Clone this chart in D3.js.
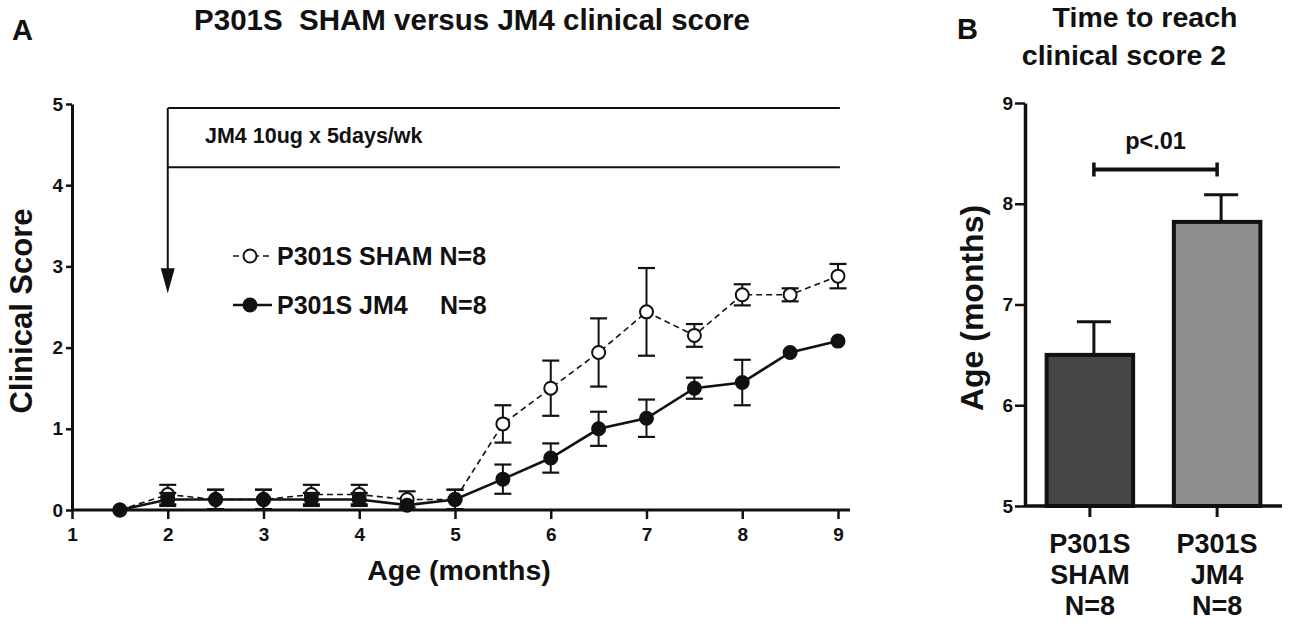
<!DOCTYPE html>
<html>
<head>
<meta charset="utf-8">
<script src="https://cdn.jsdelivr.net/npm/d3@7"></script>
<style>
  body { margin: 0; background: #fff; }
  svg text { font-family: "Liberation Sans", Arial, sans-serif; font-weight: bold; fill: #111; }
</style>
</head>
<body>
<div id="chart-container" style="width:1300px;height:628px;"></div>
<script>
// --- Data: panel A (clinical score by age) ---
const months = [1.5, 2, 2.5, 3, 3.5, 4, 4.5, 5, 5.5, 6, 6.5, 7, 7.5, 8, 8.5, 9];
const shamMean = [0, 0.19, 0.13, 0.13, 0.19, 0.19, 0.13, 0.13, 1.06, 1.5, 1.94, 2.44, 2.15, 2.65, 2.65, 2.88];
const shamSem  = [0, 0.12, 0.12, 0.12, 0.12, 0.12, 0.10, 0.12, 0.23, 0.34, 0.42, 0.54, 0.14, 0.13, 0.08, 0.15];
const jm4Mean  = [0, 0.13, 0.13, 0.13, 0.13, 0.13, 0.06, 0.13, 0.38, 0.64, 1.0, 1.13, 1.5, 1.57, 1.94, 2.08];
const jm4Sem   = [0, 0.08, 0.12, 0.12, 0.08, 0.08, 0, 0.12, 0.18, 0.18, 0.21, 0.23, 0.13, 0.28, 0, 0];
const xTicksA = [1, 2, 3, 4, 5, 6, 7, 8, 9];
const yTicksA = [0, 1, 2, 3, 4, 5];

// --- Data: panel B (time to reach score 2) ---
const groups = ["SHAM", "JM4"];
const groupLabels = [["P301S", "SHAM", "N=8"], ["P301S", "JM4", "N=8"]];
const ageMean = [6.5, 7.82];
const ageSem = [0.33, 0.27];
const yTicksB = [5, 6, 7, 8, 9];

const svg = d3.select("#chart-container")
    .append("svg")
    .attr("width", 1300)
    .attr("height", 628);

const intFmt = d3.format("d");

// ================= Panel A =================
const x = d3.scaleLinear().domain([1, 9]).range([72, 838]);
const y = d3.scaleLinear().domain([0, 5]).range([510, 104]);

svg.append("text").attr("x", 12).attr("y", 40).attr("font-size", "29px").text("A");
svg.append("text")
    .attr("x", 472).attr("y", 30)
    .attr("text-anchor", "middle")
    .attr("font-size", "29.5px")
    .attr("xml:space", "preserve")
    .text("P301S  SHAM versus JM4 clinical score");

// axes
const xAxis = svg.append("g")
    .attr("transform", `translate(0, ${y(0)})`)
    .call(d3.axisBottom(x).tickValues(xTicksA).tickFormat(intFmt).tickSize(9).tickSizeOuter(0).tickPadding(9));
xAxis.select(".domain").remove();
xAxis.selectAll(".tick line").attr("stroke", "#111").attr("stroke-width", 2.5);
xAxis.selectAll("text").style("font-size", "19px").attr("fill", "#111");
svg.append("line")
    .attr("x1", x(1)).attr("x2", x(9) + 12)
    .attr("y1", y(0)).attr("y2", y(0))
    .attr("stroke", "#111").attr("stroke-width", 3);

const yAxis = svg.append("g")
    .attr("transform", `translate(${x(1)}, 0)`)
    .call(d3.axisLeft(y).tickValues(yTicksA).tickFormat(intFmt).tickSize(6).tickSizeOuter(0).tickPadding(3));
yAxis.select(".domain").attr("stroke", "#111").attr("stroke-width", 3);
yAxis.selectAll(".tick line").attr("stroke", "#111").attr("stroke-width", 2.5);
yAxis.selectAll("text").style("font-size", "19px").attr("fill", "#111");

svg.append("text")
    .attr("transform", `translate(32, 311) rotate(-90)`)
    .attr("text-anchor", "middle")
    .attr("font-size", "31px")
    .text("Clinical Score");
svg.append("text")
    .attr("x", 459).attr("y", 580)
    .attr("text-anchor", "middle")
    .attr("font-size", "28.5px")
    .text("Age (months)");

// treatment box + arrow
const boxTop = y(4.95), boxBot = y(4.22), boxL = x(2), boxR = x(9.02);
[boxTop, boxBot].forEach(v => {
    svg.append("line")
        .attr("x1", boxL).attr("x2", boxR).attr("y1", v).attr("y2", v)
        .attr("stroke", "#111").attr("stroke-width", 2);
});
const tipY = y(2.67);
svg.append("line")
    .attr("x1", boxL).attr("x2", boxL).attr("y1", boxTop).attr("y2", tipY - 20)
    .attr("stroke", "#111").attr("stroke-width", 2);
svg.append("path")
    .attr("d", `M${boxL - 7},${tipY - 25} L${boxL + 7},${tipY - 25} L${boxL},${tipY} Z`)
    .attr("fill", "#111");
svg.append("text")
    .attr("x", 205).attr("y", 143)
    .attr("font-size", "21.5px")
    .text("JM4 10ug x 5days/wk");

// series
const seriesA = [
    { name: "sham", mean: shamMean, sem: shamSem, dash: "6,4", width: 1.6, fill: "#fff" },
    { name: "jm4", mean: jm4Mean, sem: jm4Sem, dash: null, width: 2.6, fill: "#111" }
];
const line = d3.line().x(d => x(d.m)).y(d => y(d.v));

seriesA.forEach(s => {
    const pts = months.map((m, i) => ({ m, v: s.mean[i], e: s.sem[i] }));
    const g = svg.append("g");

    // error bars
    pts.filter(d => d.e > 0).forEach(d => {
        g.append("line")
            .attr("x1", x(d.m)).attr("x2", x(d.m))
            .attr("y1", y(d.v + d.e)).attr("y2", y(Math.max(0, d.v - d.e)))
            .attr("stroke", "#111").attr("stroke-width", 2);
        [d.v + d.e, Math.max(0, d.v - d.e)].forEach(v => {
            g.append("line")
                .attr("x1", x(d.m) - 8.5).attr("x2", x(d.m) + 8.5)
                .attr("y1", y(v)).attr("y2", y(v))
                .attr("stroke", "#111").attr("stroke-width", 2.2);
        });
    });

    g.append("path")
        .datum(pts)
        .attr("d", line)
        .attr("fill", "none")
        .attr("stroke", "#111")
        .attr("stroke-width", s.width)
        .attr("stroke-dasharray", s.dash);

    g.selectAll("circle")
        .data(pts)
        .enter()
        .append("circle")
        .attr("cx", d => x(d.m))
        .attr("cy", d => y(d.v))
        .attr("r", 6.5)
        .attr("fill", s.fill)
        .attr("stroke", "#111")
        .attr("stroke-width", 2);
});

// legend
const legend = [
    { s: seriesA[0], label: "P301S SHAM N=8", extra: null, cy: 256 },
    { s: seriesA[1], label: "P301S JM4", extra: "N=8", cy: 305 }
];
legend.forEach(l => {
    svg.append("line")
        .attr("x1", 233).attr("x2", 272).attr("y1", l.cy).attr("y2", l.cy)
        .attr("stroke", "#111").attr("stroke-width", l.s.width)
        .attr("stroke-dasharray", l.s.dash);
    svg.append("circle")
        .attr("cx", 250).attr("cy", l.cy).attr("r", 6.5)
        .attr("fill", l.s.fill).attr("stroke", "#111").attr("stroke-width", 2);
    svg.append("text")
        .attr("x", 277).attr("y", l.cy + 9)
        .attr("font-size", "25px")
        .text(l.label);
    if (l.extra) {
        svg.append("text")
            .attr("x", 440).attr("y", l.cy + 9)
            .attr("font-size", "25px")
            .text(l.extra);
    }
});

// ================= Panel B =================
const xb = d3.scaleBand().domain(groups).range([1025, 1282]).paddingInner(0.32).paddingOuter(0.17);
const yb = d3.scaleLinear().domain([5, 9]).range([506, 103]);

svg.append("text").attr("x", 957).attr("y", 39).attr("font-size", "29px").text("B");
svg.append("text")
    .attr("x", 1145).attr("y", 27)
    .attr("text-anchor", "middle").attr("font-size", "28.5px")
    .text("Time to reach");
svg.append("text")
    .attr("x", 1124).attr("y", 65)
    .attr("text-anchor", "middle").attr("font-size", "28.5px")
    .text("clinical score 2");

// bars
const barColors = ["#464646", "#8e8e8e"];
svg.append("g")
    .selectAll("rect")
    .data(groups)
    .enter()
    .append("rect")
    .attr("x", d => xb(d))
    .attr("width", xb.bandwidth())
    .attr("y", (d, i) => yb(ageMean[i]))
    .attr("height", (d, i) => yb(5) - yb(ageMean[i]))
    .attr("fill", (d, i) => barColors[i])
    .attr("stroke", "#111")
    .attr("stroke-width", 4);

// error bars (upper only)
groups.forEach((gname, i) => {
    const cx = xb(gname) + xb.bandwidth() / 2 + 4;
    svg.append("line")
        .attr("x1", cx).attr("x2", cx)
        .attr("y1", yb(ageMean[i])).attr("y2", yb(ageMean[i] + ageSem[i]))
        .attr("stroke", "#111").attr("stroke-width", 3);
    svg.append("line")
        .attr("x1", cx - 17).attr("x2", cx + 17)
        .attr("y1", yb(ageMean[i] + ageSem[i])).attr("y2", yb(ageMean[i] + ageSem[i]))
        .attr("stroke", "#111").attr("stroke-width", 3);
});

// axes B
const ybAxis = svg.append("g")
    .attr("transform", `translate(1025, 0)`)
    .call(d3.axisLeft(yb).tickValues(yTicksB).tickFormat(intFmt).tickSize(10).tickSizeOuter(0).tickPadding(2));
ybAxis.select(".domain").attr("stroke", "#111").attr("stroke-width", 3.5);
ybAxis.selectAll(".tick line").attr("stroke", "#111").attr("stroke-width", 2.5);
ybAxis.selectAll("text").style("font-size", "19px").attr("fill", "#111");

const xbAxis = svg.append("g")
    .attr("transform", `translate(0, ${yb(5)})`)
    .call(d3.axisBottom(xb).tickSize(11).tickSizeOuter(0).tickFormat(""));
xbAxis.select(".domain").remove();
xbAxis.selectAll(".tick line").attr("stroke", "#111").attr("stroke-width", 3);
svg.append("line")
    .attr("x1", 1025).attr("x2", 1282).attr("y1", yb(5)).attr("y2", yb(5))
    .attr("stroke", "#111").attr("stroke-width", 3.5);

groups.forEach((gname, i) => {
    const cx = xb(gname) + xb.bandwidth() / 2;
    groupLabels[i].forEach((t, j) => {
        svg.append("text")
            .attr("x", cx).attr("y", 553 + j * 31)
            .attr("text-anchor", "middle")
            .attr("font-size", "27px")
            .text(t);
    });
});

svg.append("text")
    .attr("transform", `translate(983, 308) rotate(-90)`)
    .attr("text-anchor", "middle")
    .attr("font-size", "32px")
    .text("Age (months)");

// significance bracket
const sigY = yb(8.34);
const sx1 = xb("SHAM") + xb.bandwidth() / 2 + 4, sx2 = xb("JM4") + xb.bandwidth() / 2;
svg.append("line")
    .attr("x1", sx1).attr("x2", sx2).attr("y1", sigY).attr("y2", sigY)
    .attr("stroke", "#111").attr("stroke-width", 4);
[sx1, sx2].forEach(sx => {
    svg.append("line")
        .attr("x1", sx).attr("x2", sx).attr("y1", sigY - 7).attr("y2", sigY + 7)
        .attr("stroke", "#111").attr("stroke-width", 3.5);
});
svg.append("text")
    .attr("x", (sx1 + sx2) / 2).attr("y", 149)
    .attr("text-anchor", "middle")
    .attr("font-size", "23.5px")
    .text("p<.01");
</script>
</body>
</html>
